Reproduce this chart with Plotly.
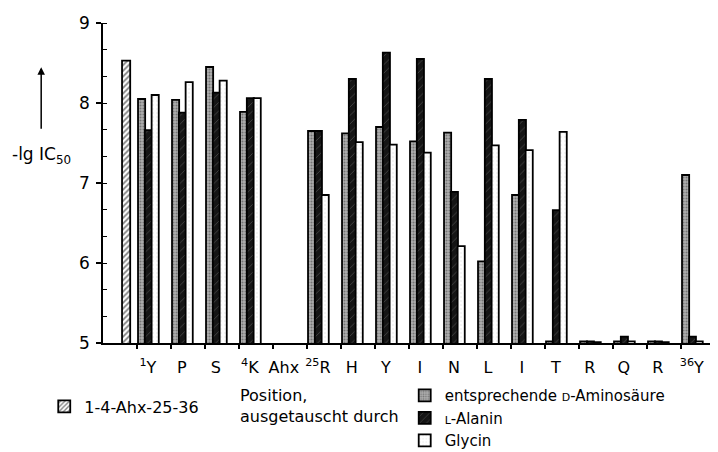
import plotly.graph_objects as go

# ---- data ----
positions = ["<sup>1</sup>Y", "P", "S", "<sup>4</sup>K", "Ahx", "<sup>25</sup>R", "H", "Y", "I",
             "N", "L", "I", "T", "R", "Q", "R", "<sup>36</sup>Y"]
d_aminosaeure = [8.05, 8.04, 8.45, 7.89, None, 7.65, 7.62, 7.70, 7.52, 7.63, 6.02, 6.85,
                 5.02, 5.02, 5.02, 5.02, 7.10]
l_alanin = [7.66, 7.88, 8.13, 8.06, None, 7.65, 8.30, 8.63, 8.55, 6.89, 8.30, 7.79,
            6.66, 5.02, 5.08, 5.02, 5.08]
glycin = [8.10, 8.26, 8.28, 8.06, None, 6.85, 7.51, 7.48, 7.38, 6.21, 7.47, 7.41,
          7.64, 5.01, 5.02, 5.01, 5.02]
reference_name = "1-4-Ahx-25-36"
reference_value = [8.53]

idx = list(range(len(positions)))
FONT = "DejaVu Sans"

fig = go.Figure()

fig.add_trace(go.Bar(
    x=[-1], y=reference_value, name=reference_name, legend="legend",
    offset=0.56, width=0.24,
    marker=dict(color="white", line=dict(color="black", width=1.8),
                pattern=dict(shape="/", fgcolor="black", bgcolor="white", size=4, solidity=0.45)),
))
fig.add_trace(go.Bar(
    x=idx, y=d_aminosaeure, legend="legend2",
    name='entsprechende <span style="font-size:11px">D</span>-Aminosäure',
    offset=0.03, width=0.21,
    marker=dict(color="#9a9a9a", line=dict(color="black", width=1.8),
                pattern=dict(shape=".", fgcolor="#3a3a3a", bgcolor="#b0b0b0", size=3, solidity=0.4)),
))
fig.add_trace(go.Bar(
    x=idx, y=l_alanin, legend="legend2",
    name='<span style="font-size:11px">L</span>-Alanin',
    offset=0.23, width=0.21,
    marker=dict(color="#151515", line=dict(color="black", width=1.8),
                pattern=dict(shape="/", fgcolor="#8a8a8a", bgcolor="#151515", size=6, solidity=0.12)),
))
fig.add_trace(go.Bar(
    x=idx, y=glycin, legend="legend2", name="Glycin",
    offset=0.43, width=0.21,
    marker=dict(color="white", line=dict(color="black", width=1.8),
                pattern=dict(shape=".", fgcolor="#bbbbbb", bgcolor="white", size=4, solidity=0.08)),
))

# the page body adds an 8px offset, so the figure is 8px smaller with 8px less margin
fig.update_layout(
    width=710, height=444,
    margin=dict(l=95, r=3, t=15, b=109, autoexpand=False),
    paper_bgcolor="white", plot_bgcolor="white",
    barmode="overlay",
    font=dict(family=FONT, size=15, color="black"),
    showlegend=True,
    legend=dict(x=-0.096, y=-0.145, xanchor="left", yanchor="top",
                font=dict(size=16), bgcolor="rgba(0,0,0,0)", borderwidth=0),
    legend2=dict(x=0.493, y=-0.113, xanchor="left", yanchor="top",
                 font=dict(size=15), bgcolor="rgba(0,0,0,0)", borderwidth=0, tracegroupgap=0),
    xaxis=dict(
        range=[-1, 17], showgrid=False, zeroline=False,
        showline=True, linecolor="black", linewidth=1.5,
        tickvals=[k + 0.32 for k in idx], ticktext=positions,
        ticks="outside", ticklen=9, tickcolor="rgba(0,0,0,0)",
        tickfont=dict(size=16),
        minor=dict(tickvals=list(range(0, 18)), ticks="outside", ticklen=4,
                   tickcolor="black", tickwidth=1.5),
    ),
    yaxis=dict(
        range=[5, 9], showgrid=False, zeroline=False,
        showline=True, linecolor="black", linewidth=1.5,
        tickvals=[5, 6, 7, 8, 9], ticks="outside", ticklen=5, tickwidth=1.5,
        tickcolor="black", tickfont=dict(size=17), ticklabelstandoff=3,
        minor=dict(dtick=1/3, ticks="inside", ticklen=4, tickcolor="black", tickwidth=1.2),
    ),
    annotations=[
        dict(text="-lg IC<sub>50</sub>", xref="paper", yref="paper",
             x=-0.1013, y=0.5875, xanchor="center", yanchor="middle",
             showarrow=False, font=dict(size=17)),
        dict(text="", xref="paper", yref="paper", x=-0.101, y=0.862,
             showarrow=True, ax=0, ay=63, arrowhead=2, arrowsize=1, arrowwidth=1.5,
             arrowcolor="black"),
        dict(text="Position,<br>ausgetauscht durch", xref="paper", yref="paper",
             x=0.2206, y=-0.128, xanchor="left", yanchor="top", align="left",
             showarrow=False, font=dict(size=16)),
    ],
)

fig.write_html("out.html")
